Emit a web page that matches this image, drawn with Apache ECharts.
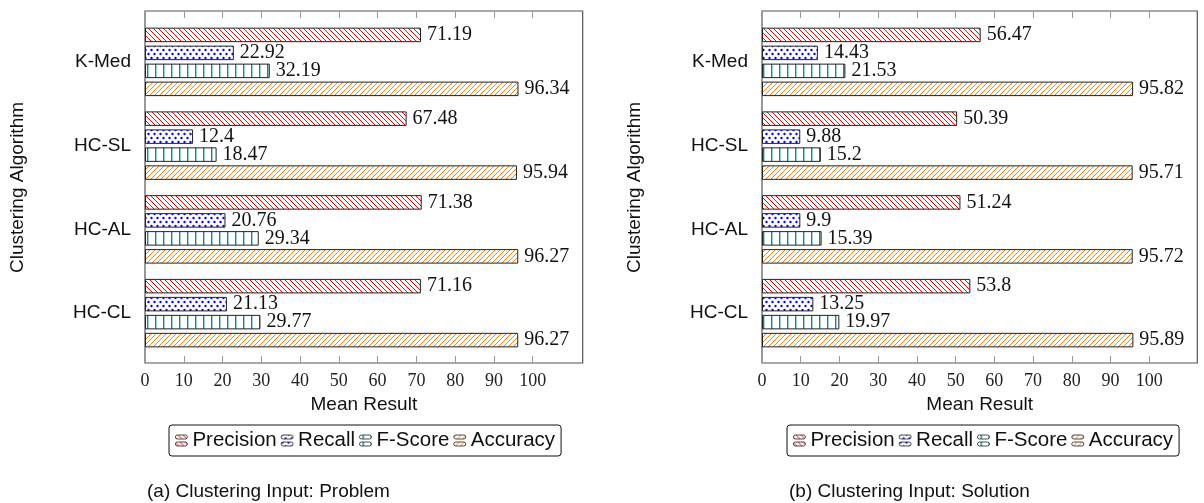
<!DOCTYPE html>
<html>
<head>
<meta charset="utf-8">
<title>Clustering results</title>
<script src="https://cdn.jsdelivr.net/npm/echarts@6/dist/echarts.min.js"></script>
<style>
  html, body { margin: 0; padding: 0; background: #fff; }
  #chart { width: 1204px; height: 503px; }
</style>
</head>
<body>
<div id="chart"></div>
<script>
// Clustering algorithms (one group of bars per algorithm)
const categories = ['K-Med', 'HC-SL', 'HC-AL', 'HC-CL'];
const metricNames = ['Precision', 'Recall', 'F-Score', 'Accuracy'];

// (a) Clustering input: Problem
const problemPrecision = [71.19, 67.48, 71.38, 71.16];
const problemRecall = [22.92, 12.4, 20.76, 21.13];
const problemFScore = [32.19, 18.47, 29.34, 29.77];
const problemAccuracy = [96.34, 95.94, 96.27, 96.27];

// (b) Clustering input: Solution
const solutionPrecision = [56.47, 50.39, 51.24, 53.8];
const solutionRecall = [14.43, 9.88, 9.9, 13.25];
const solutionFScore = [21.53, 15.2, 15.39, 19.97];
const solutionAccuracy = [95.82, 95.71, 95.72, 95.89];

// Mean result axis ticks
const xTicks = [0, 10, 20, 30, 40, 50, 60, 70, 80, 90, 100];

const SANS = 'Liberation Sans, Arial, sans-serif';
const SERIF = 'Liberation Serif, Times New Roman, serif';

// ---- fill patterns ----
function tile(w, h, draw) {
  const c = document.createElement('canvas');
  c.width = w; c.height = h;
  const ctx = c.getContext('2d');
  ctx.fillStyle = '#fff';
  ctx.fillRect(0, 0, w, h);
  draw(ctx, w, h);
  return { image: c, repeat: 'repeat' };
}
function diagonal(color, dir) {
  const s = 5;
  return tile(s, s, function (ctx) {
    ctx.strokeStyle = color;
    ctx.lineWidth = 1;
    ctx.beginPath();
    for (let k = -s; k <= s; k += s) {
      if (dir === 'nw') { ctx.moveTo(k, 0); ctx.lineTo(k + s, s); }
      else { ctx.moveTo(k, s); ctx.lineTo(k + s, 0); }
    }
    ctx.stroke();
  });
}
function dots(color) {
  return tile(6, 8, function (ctx) {
    ctx.fillStyle = color;
    [[1.5, 2], [4.5, 6]].forEach(function (p) {
      ctx.beginPath(); ctx.arc(p[0], p[1], 1.2, 0, Math.PI * 2); ctx.fill();
    });
  });
}
function vlines(color) {
  return tile(8, 4, function (ctx) {
    ctx.fillStyle = color;
    ctx.fillRect(3, 0, 1.4, 4);
  });
}

const fills = {
  'Precision': diagonal('#ff0000', 'nw'),
  'Recall': dots('#0000ff'),
  'F-Score': vlines('#009090'),
  'Accuracy': diagonal('#ff8000', 'ne')
};

const legendIcon = 'path://M2,0 H10 A2,2 0 0 1 10,4 H2 A2,2 0 0 1 2,0 Z M2,7 H10 A2,2 0 0 1 10,11 H2 A2,2 0 0 1 2,7 Z';

function panel(idx, left, width, xmax) {
  const g = idx * 2;       // frame grid index
  const frameGrid = { left: left, top: 11, width: width, height: 352, show: true, borderColor: '#555', borderWidth: 1.2, backgroundColor: 'transparent' };
  const barGrid = { left: left, top: 20, width: width, height: 335 };
  const tickStyle = { lineStyle: { color: '#999', width: 1 } };
  const xAxes = [
    {
      gridIndex: g, type: 'value', position: 'bottom', min: 0, max: xmax,
      axisLine: { show: false }, splitLine: { show: false },
      axisTick: Object.assign({ inside: true, length: 7, customValues: xTicks }, tickStyle),
      axisLabel: { customValues: xTicks, fontFamily: SERIF, fontSize: 18, color: '#222', margin: 9 },
      name: 'Mean Result', nameLocation: 'middle', nameGap: 32,
      nameTextStyle: { fontFamily: SANS, fontSize: 19, color: '#111' }
    },
    {
      gridIndex: g, type: 'value', position: 'top', min: 0, max: xmax,
      axisLine: { show: false }, splitLine: { show: false }, axisLabel: { show: false },
      axisTick: Object.assign({ inside: true, length: 7, customValues: xTicks }, tickStyle)
    },
    { gridIndex: g + 1, type: 'value', min: 0, max: xmax, show: false }
  ];
  const yAxes = [
    { gridIndex: g, type: 'value', min: 0, max: 1, show: false },
    {
      gridIndex: g + 1, type: 'category', data: categories, inverse: true, position: 'left',
      axisLine: { show: false },
      axisTick: Object.assign({ alignWithLabel: true, length: 7 }, tickStyle),
      axisLabel: { fontFamily: SANS, fontSize: 19, color: '#111', margin: 14 },
      name: 'Clustering Algorithm', nameLocation: 'middle', nameGap: 118,
      nameTextStyle: { fontFamily: SANS, fontSize: 19, color: '#111' }
    },
    {
      gridIndex: g + 1, type: 'category', data: categories, inverse: true, position: 'right',
      axisLine: { show: false }, axisLabel: { show: false },
      axisTick: Object.assign({ alignWithLabel: true, length: 7 }, tickStyle)
    }
  ];
  return { grids: [frameGrid, barGrid], xAxes: xAxes, yAxes: yAxes };
}

const left = panel(0, 145, 437.7, 112.9);
const right = panel(1, 762, 435.3, 112.4);

function barSeries(name, values, xAxisIndex, yAxisIndex) {
  return {
    type: 'bar', name: name, data: values,
    xAxisIndex: xAxisIndex, yAxisIndex: yAxisIndex,
    barWidth: 14.5, barGap: '24%',
    itemStyle: { color: fills[name], borderColor: '#222', borderWidth: 1 },
    label: { show: true, position: 'right', distance: 6, fontFamily: SERIF, fontSize: 20, color: '#111' },
    emphasis: { disabled: true }
  };
}

const problemSets = [problemPrecision, problemRecall, problemFScore, problemAccuracy];
const solutionSets = [solutionPrecision, solutionRecall, solutionFScore, solutionAccuracy];

const series = []
  .concat(metricNames.map(function (n, i) { return barSeries(n, problemSets[i], 2, 1); }))
  .concat(metricNames.map(function (n, i) { return barSeries(n, solutionSets[i], 5, 4); }));

function legendAt(x) {
  return {
    left: x, top: 425, orient: 'horizontal',
    data: metricNames, icon: legendIcon,
    itemWidth: 12, itemHeight: 16, itemGap: 4,
    itemStyle: { borderWidth: 0.8, borderColor: '#222' },
    textStyle: { fontFamily: SANS, fontSize: 20.5, color: '#111' },
    borderColor: '#111', borderWidth: 1, borderRadius: 3,
    padding: [5, 6], selectedMode: false
  };
}

const chart = echarts.init(document.getElementById('chart'), null, { renderer: 'canvas' });
chart.setOption({
  animation: false,
  backgroundColor: '#fff',
  grid: left.grids.concat(right.grids),
  xAxis: left.xAxes.concat(right.xAxes),
  yAxis: left.yAxes.concat(right.yAxes),
  legend: [legendAt(169), legendAt(787)],
  series: series,
  graphic: [
    { type: 'text', left: 147, top: 482, style: { text: '(a) Clustering Input: Problem', font: '19px ' + SANS, fill: '#111' } },
    { type: 'text', left: 789, top: 482, style: { text: '(b) Clustering Input: Solution', font: '19px ' + SANS, fill: '#111' } }
  ]
});
</script>
</body>
</html>
